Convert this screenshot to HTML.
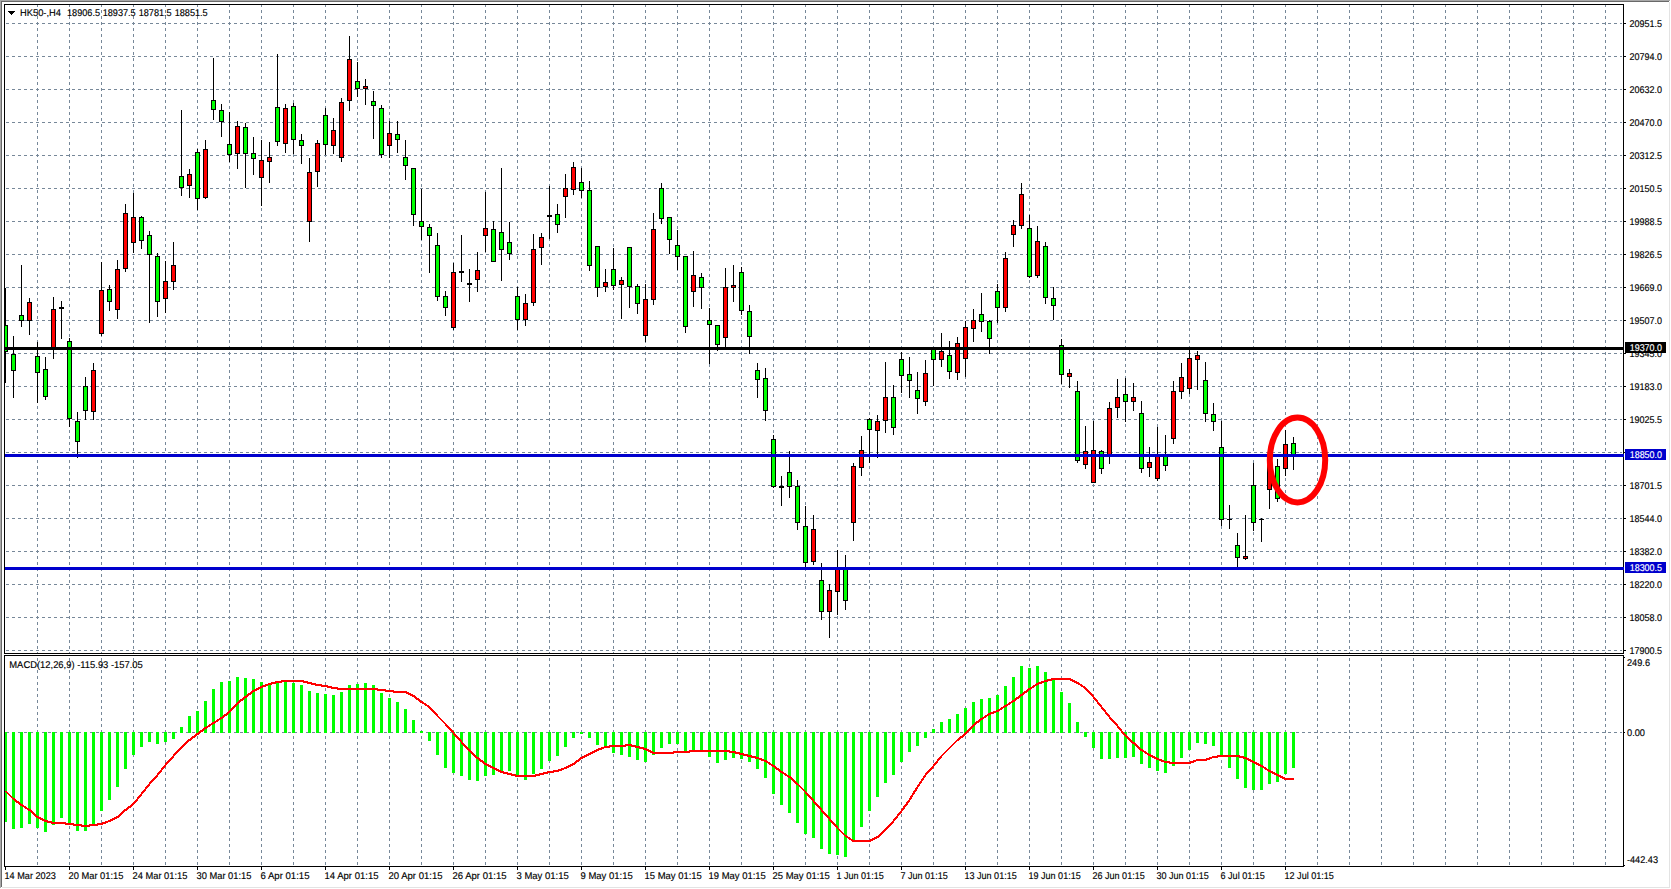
<!DOCTYPE html>
<html><head><meta charset="utf-8"><title>HK50-,H4</title>
<style>
html,body{margin:0;padding:0;background:#fff}
body{width:1671px;height:889px;overflow:hidden;position:relative}
svg{position:absolute;left:0;top:0;display:block}
text{font-family:"Liberation Sans",sans-serif;font-size:9.75px;fill:#000;stroke:#000;stroke-width:.15px;text-rendering:geometricPrecision}
.c{shape-rendering:crispEdges}
</style></head><body>
<svg width="1671" height="889" viewBox="0 0 1671 889">
<defs>
<clipPath id="cm"><rect x="5" y="5" width="1618" height="648"/></clipPath>
<clipPath id="ci"><rect x="5" y="656" width="1618" height="210"/></clipPath>
</defs>
<rect x="0" y="0" width="1671" height="889" fill="#fff"/>
<g class="c">
<rect x="0" y="0" width="1670" height="1" fill="#a8a8a8"/>
<rect x="0" y="0" width="1" height="888" fill="#a8a8a8"/>
<rect x="1" y="1" width="1668" height="1" fill="#696969"/>
<rect x="1" y="1" width="1" height="886" fill="#696969"/>
<rect x="1669" y="2" width="1" height="886" fill="#e3e3e3"/>
<rect x="2" y="887" width="1668" height="1" fill="#e3e3e3"/>
</g>
<g class="c" stroke="#778899" stroke-width="1" stroke-dasharray="3 3" fill="none">
<path d="M37.5 4V653M69.5 4V653M101.5 4V653M133.5 4V653M165.5 4V653M197.5 4V653M229.5 4V653M261.5 4V653M293.5 4V653M325.5 4V653M357.5 4V653M389.5 4V653M421.5 4V653M453.5 4V653M485.5 4V653M517.5 4V653M549.5 4V653M581.5 4V653M613.5 4V653M645.5 4V653M677.5 4V653M709.5 4V653M741.5 4V653M773.5 4V653M805.5 4V653M837.5 4V653M869.5 4V653M901.5 4V653M933.5 4V653M965.5 4V653M997.5 4V653M1029.5 4V653M1061.5 4V653M1093.5 4V653M1125.5 4V653M1157.5 4V653M1189.5 4V653M1221.5 4V653M1253.5 4V653M1285.5 4V653M1317.5 4V653M1349.5 4V653M1381.5 4V653M1413.5 4V653M1445.5 4V653M1477.5 4V653M1509.5 4V653M1541.5 4V653M1573.5 4V653M1605.5 4V653"/>
<path d="M37.5 652V866M69.5 652V866M101.5 652V866M133.5 652V866M165.5 652V866M197.5 652V866M229.5 652V866M261.5 652V866M293.5 652V866M325.5 652V866M357.5 652V866M389.5 652V866M421.5 652V866M453.5 652V866M485.5 652V866M517.5 652V866M549.5 652V866M581.5 652V866M613.5 652V866M645.5 652V866M677.5 652V866M709.5 652V866M741.5 652V866M773.5 652V866M805.5 652V866M837.5 652V866M869.5 652V866M901.5 652V866M933.5 652V866M965.5 652V866M997.5 652V866M1029.5 652V866M1061.5 652V866M1093.5 652V866M1125.5 652V866M1157.5 652V866M1189.5 652V866M1221.5 652V866M1253.5 652V866M1285.5 652V866M1317.5 652V866M1349.5 652V866M1381.5 652V866M1413.5 652V866M1445.5 652V866M1477.5 652V866M1509.5 652V866M1541.5 652V866M1573.5 652V866M1605.5 652V866" clip-path="url(#ci)"/>
<path d="M6 23.5H1622M6 56.5H1622M6 89.5H1622M6 122.5H1622M6 155.5H1622M6 188.5H1622M6 221.5H1622M6 254.5H1622M6 287.5H1622M6 320.5H1622M6 353.5H1622M6 386.5H1622M6 419.5H1622M6 452.5H1622M6 485.5H1622M6 518.5H1622M6 551.5H1622M6 584.5H1622M6 617.5H1622M6 650.5H1622M6 732.5H1622"/>
</g>
<g class="c" fill="#00FF00" clip-path="url(#ci)">
<rect x="4" y="732" width="3" height="90"/>
<rect x="12" y="732" width="3" height="97"/>
<rect x="20" y="732" width="3" height="96"/>
<rect x="28" y="732" width="3" height="92"/>
<rect x="36" y="732" width="3" height="96"/>
<rect x="44" y="732" width="3" height="100"/>
<rect x="52" y="732" width="3" height="93"/>
<rect x="60" y="732" width="3" height="86"/>
<rect x="68" y="732" width="3" height="92"/>
<rect x="76" y="732" width="3" height="99"/>
<rect x="84" y="732" width="3" height="99"/>
<rect x="92" y="732" width="3" height="93"/>
<rect x="100" y="732" width="3" height="79"/>
<rect x="108" y="732" width="3" height="68"/>
<rect x="116" y="732" width="3" height="55"/>
<rect x="124" y="732" width="3" height="37"/>
<rect x="132" y="732" width="3" height="23"/>
<rect x="140" y="732" width="3" height="15"/>
<rect x="148" y="732" width="3" height="10"/>
<rect x="156" y="732" width="3" height="12"/>
<rect x="164" y="732" width="3" height="10"/>
<rect x="172" y="732" width="3" height="7"/>
<rect x="180" y="727" width="3" height="6"/>
<rect x="188" y="716" width="3" height="17"/>
<rect x="196" y="711" width="3" height="22"/>
<rect x="204" y="701" width="3" height="32"/>
<rect x="212" y="689" width="3" height="44"/>
<rect x="220" y="682" width="3" height="51"/>
<rect x="228" y="681" width="3" height="52"/>
<rect x="236" y="677" width="3" height="56"/>
<rect x="244" y="678" width="3" height="55"/>
<rect x="252" y="679" width="3" height="54"/>
<rect x="260" y="682" width="3" height="51"/>
<rect x="268" y="684" width="3" height="49"/>
<rect x="276" y="683" width="3" height="50"/>
<rect x="284" y="682" width="3" height="51"/>
<rect x="292" y="683" width="3" height="50"/>
<rect x="300" y="685" width="3" height="48"/>
<rect x="308" y="691" width="3" height="42"/>
<rect x="316" y="693" width="3" height="40"/>
<rect x="324" y="694" width="3" height="39"/>
<rect x="332" y="695" width="3" height="38"/>
<rect x="340" y="692" width="3" height="41"/>
<rect x="348" y="685" width="3" height="48"/>
<rect x="356" y="684" width="3" height="49"/>
<rect x="364" y="683" width="3" height="50"/>
<rect x="372" y="685" width="3" height="48"/>
<rect x="380" y="693" width="3" height="40"/>
<rect x="388" y="698" width="3" height="35"/>
<rect x="396" y="702" width="3" height="31"/>
<rect x="404" y="709" width="3" height="24"/>
<rect x="412" y="720" width="3" height="13"/>
<rect x="420" y="731" width="3" height="2"/>
<rect x="428" y="732" width="3" height="9"/>
<rect x="436" y="732" width="3" height="23"/>
<rect x="444" y="732" width="3" height="36"/>
<rect x="452" y="732" width="3" height="41"/>
<rect x="460" y="732" width="3" height="44"/>
<rect x="468" y="732" width="3" height="48"/>
<rect x="476" y="732" width="3" height="49"/>
<rect x="484" y="732" width="3" height="44"/>
<rect x="492" y="732" width="3" height="43"/>
<rect x="500" y="732" width="3" height="40"/>
<rect x="508" y="732" width="3" height="39"/>
<rect x="516" y="732" width="3" height="44"/>
<rect x="524" y="732" width="3" height="48"/>
<rect x="532" y="732" width="3" height="42"/>
<rect x="540" y="732" width="3" height="37"/>
<rect x="548" y="732" width="3" height="29"/>
<rect x="556" y="732" width="3" height="24"/>
<rect x="564" y="732" width="3" height="15"/>
<rect x="572" y="732" width="3" height="6"/>
<rect x="580" y="732" width="3" height="2"/>
<rect x="588" y="732" width="3" height="6"/>
<rect x="596" y="732" width="3" height="13"/>
<rect x="604" y="732" width="3" height="15"/>
<rect x="612" y="732" width="3" height="21"/>
<rect x="620" y="732" width="3" height="23"/>
<rect x="628" y="732" width="3" height="25"/>
<rect x="636" y="732" width="3" height="28"/>
<rect x="644" y="732" width="3" height="30"/>
<rect x="652" y="732" width="3" height="23"/>
<rect x="660" y="732" width="3" height="16"/>
<rect x="668" y="732" width="3" height="12"/>
<rect x="676" y="732" width="3" height="12"/>
<rect x="684" y="732" width="3" height="19"/>
<rect x="692" y="732" width="3" height="19"/>
<rect x="700" y="732" width="3" height="18"/>
<rect x="708" y="732" width="3" height="25"/>
<rect x="716" y="732" width="3" height="31"/>
<rect x="724" y="732" width="3" height="28"/>
<rect x="732" y="732" width="3" height="26"/>
<rect x="740" y="732" width="3" height="27"/>
<rect x="748" y="732" width="3" height="30"/>
<rect x="756" y="732" width="3" height="37"/>
<rect x="764" y="732" width="3" height="46"/>
<rect x="772" y="732" width="3" height="62"/>
<rect x="780" y="732" width="3" height="73"/>
<rect x="788" y="732" width="3" height="81"/>
<rect x="796" y="732" width="3" height="91"/>
<rect x="804" y="732" width="3" height="102"/>
<rect x="812" y="732" width="3" height="106"/>
<rect x="820" y="732" width="3" height="117"/>
<rect x="828" y="732" width="3" height="122"/>
<rect x="836" y="732" width="3" height="123"/>
<rect x="844" y="732" width="3" height="125"/>
<rect x="852" y="732" width="3" height="110"/>
<rect x="860" y="732" width="3" height="95"/>
<rect x="868" y="732" width="3" height="79"/>
<rect x="876" y="732" width="3" height="65"/>
<rect x="884" y="732" width="3" height="51"/>
<rect x="892" y="732" width="3" height="43"/>
<rect x="900" y="732" width="3" height="30"/>
<rect x="908" y="732" width="3" height="20"/>
<rect x="916" y="732" width="3" height="14"/>
<rect x="924" y="732" width="3" height="6"/>
<rect x="932" y="729" width="3" height="4"/>
<rect x="940" y="722" width="3" height="11"/>
<rect x="948" y="719" width="3" height="14"/>
<rect x="956" y="714" width="3" height="19"/>
<rect x="964" y="708" width="3" height="25"/>
<rect x="972" y="702" width="3" height="31"/>
<rect x="980" y="699" width="3" height="34"/>
<rect x="988" y="698" width="3" height="35"/>
<rect x="996" y="695" width="3" height="38"/>
<rect x="1004" y="686" width="3" height="47"/>
<rect x="1012" y="677" width="3" height="56"/>
<rect x="1020" y="666" width="3" height="67"/>
<rect x="1028" y="668" width="3" height="65"/>
<rect x="1036" y="666" width="3" height="67"/>
<rect x="1044" y="672" width="3" height="61"/>
<rect x="1052" y="680" width="3" height="53"/>
<rect x="1060" y="692" width="3" height="41"/>
<rect x="1068" y="703" width="3" height="30"/>
<rect x="1076" y="722" width="3" height="11"/>
<rect x="1084" y="732" width="3" height="5"/>
<rect x="1092" y="732" width="3" height="16"/>
<rect x="1100" y="732" width="3" height="27"/>
<rect x="1108" y="732" width="3" height="27"/>
<rect x="1116" y="732" width="3" height="26"/>
<rect x="1124" y="732" width="3" height="26"/>
<rect x="1132" y="732" width="3" height="25"/>
<rect x="1140" y="732" width="3" height="32"/>
<rect x="1148" y="732" width="3" height="36"/>
<rect x="1156" y="732" width="3" height="39"/>
<rect x="1164" y="732" width="3" height="41"/>
<rect x="1172" y="732" width="3" height="34"/>
<rect x="1180" y="732" width="3" height="26"/>
<rect x="1188" y="732" width="3" height="18"/>
<rect x="1196" y="732" width="3" height="11"/>
<rect x="1204" y="732" width="3" height="12"/>
<rect x="1212" y="732" width="3" height="14"/>
<rect x="1220" y="732" width="3" height="25"/>
<rect x="1228" y="732" width="3" height="36"/>
<rect x="1236" y="732" width="3" height="47"/>
<rect x="1244" y="732" width="3" height="56"/>
<rect x="1252" y="732" width="3" height="58"/>
<rect x="1260" y="732" width="3" height="58"/>
<rect x="1268" y="732" width="3" height="52"/>
<rect x="1276" y="732" width="3" height="50"/>
<rect x="1284" y="732" width="3" height="42"/>
<rect x="1292" y="732" width="3" height="36"/>
</g>
<polyline points="5.5,791 13.5,799 21.5,805 29.5,810 37.5,817 45.5,821 53.5,823 61.5,823 69.5,824 77.5,825 85.5,826 93.5,825 101.5,824 109.5,821 117.5,817 125.5,810 133.5,804 141.5,794 149.5,784 157.5,775 165.5,765 173.5,756 181.5,747 189.5,740 197.5,734 205.5,728 213.5,723 221.5,718 229.5,712 237.5,703 245.5,697 253.5,691 261.5,687 269.5,684 277.5,682 285.5,681 293.5,681 301.5,681 309.5,683 317.5,685 325.5,686 333.5,688 341.5,689 349.5,689 357.5,689 365.5,689 373.5,689 381.5,690 389.5,691 397.5,692 405.5,692 413.5,696 421.5,702 429.5,707 437.5,716 445.5,724 453.5,733 461.5,742 469.5,751 477.5,758 485.5,764 493.5,768 501.5,772 509.5,774 517.5,776 525.5,776 533.5,776 541.5,774 549.5,772 557.5,771 565.5,768 573.5,764 581.5,758 589.5,754 597.5,750 605.5,747 613.5,746 621.5,746 629.5,745 637.5,747 645.5,749 653.5,753 661.5,753 669.5,753 677.5,752 685.5,752 693.5,751 701.5,751 709.5,751 717.5,751 725.5,751 733.5,752 741.5,754 749.5,756 757.5,758 765.5,761 773.5,766 781.5,772 789.5,777 797.5,784 805.5,792 813.5,801 821.5,810 829.5,819 837.5,828 845.5,836 853.5,841 861.5,841 869.5,841 877.5,837 885.5,830 893.5,821 901.5,811 909.5,800 917.5,787 925.5,775 933.5,766 941.5,756 949.5,748 957.5,740 965.5,734 973.5,725 981.5,719 989.5,714 997.5,711 1005.5,706 1013.5,701 1021.5,695 1029.5,689 1037.5,684 1045.5,681 1053.5,679 1061.5,679 1069.5,679 1077.5,683 1085.5,688 1093.5,697 1101.5,707 1109.5,717 1117.5,726 1125.5,736 1133.5,743 1141.5,750 1149.5,755 1157.5,759 1165.5,762 1173.5,763 1181.5,763 1189.5,763 1197.5,760 1205.5,760 1213.5,757 1221.5,756 1229.5,756 1237.5,756 1245.5,758 1253.5,762 1261.5,766 1269.5,771 1277.5,775 1285.5,779 1293.5,779" fill="none" stroke="#FF0000" stroke-width="2.1" stroke-linejoin="round" shape-rendering="crispEdges" clip-path="url(#ci)"/>
<g class="c" clip-path="url(#cm)">
<path d="M5 288h1v95h-1zM13 336h1v62h-1zM21 265h1v62h-1zM29 298h1v37h-1zM37 342h1v61h-1zM45 357h1v43h-1zM53 297h1v62h-1zM61 301h1v38h-1zM69 338h1v89h-1zM77 412h1v46h-1zM85 377h1v43h-1zM93 363h1v57h-1zM101 262h1v74h-1zM109 285h1v26h-1zM117 260h1v59h-1zM125 204h1v68h-1zM133 193h1v60h-1zM141 216h1v33h-1zM149 231h1v92h-1zM157 253h1v64h-1zM165 261h1v52h-1zM173 242h1v48h-1zM181 110h1v86h-1zM189 169h1v29h-1zM197 149h1v61h-1zM205 140h1v59h-1zM213 58h1v62h-1zM221 104h1v33h-1zM229 112h1v50h-1zM237 121h1v48h-1zM245 123h1v65h-1zM253 137h1v38h-1zM261 140h1v66h-1zM269 142h1v41h-1zM277 54h1v92h-1zM285 104h1v49h-1zM293 103h1v51h-1zM301 134h1v30h-1zM309 158h1v84h-1zM317 140h1v47h-1zM325 108h1v47h-1zM333 118h1v36h-1zM341 98h1v64h-1zM349 36h1v75h-1zM357 62h1v35h-1zM365 79h1v26h-1zM373 91h1v48h-1zM381 105h1v53h-1zM389 121h1v37h-1zM397 121h1v32h-1zM405 140h1v40h-1zM413 168h1v58h-1zM421 189h1v51h-1zM429 224h1v49h-1zM437 233h1v68h-1zM445 291h1v25h-1zM453 263h1v67h-1zM461 235h1v47h-1zM469 269h1v33h-1zM477 252h1v40h-1zM485 192h1v60h-1zM493 221h1v41h-1zM501 168h1v113h-1zM509 222h1v38h-1zM517 287h1v43h-1zM525 294h1v32h-1zM533 234h1v72h-1zM541 233h1v32h-1zM549 186h1v53h-1zM557 204h1v29h-1zM565 174h1v44h-1zM573 162h1v33h-1zM581 168h1v30h-1zM589 181h1v90h-1zM597 246h1v51h-1zM605 269h1v23h-1zM613 248h1v42h-1zM621 277h1v42h-1zM629 247h1v61h-1zM637 284h1v30h-1zM645 284h1v58h-1zM653 213h1v92h-1zM661 183h1v41h-1zM669 217h1v37h-1zM677 230h1v40h-1zM685 256h1v77h-1zM693 251h1v56h-1zM701 273h1v36h-1zM709 308h1v56h-1zM717 325h1v26h-1zM725 268h1v80h-1zM733 265h1v37h-1zM741 267h1v48h-1zM749 305h1v49h-1zM757 363h1v35h-1zM765 368h1v53h-1zM773 435h1v53h-1zM781 476h1v30h-1zM789 451h1v47h-1zM797 480h1v50h-1zM805 506h1v61h-1zM813 515h1v50h-1zM821 563h1v57h-1zM829 584h1v54h-1zM837 550h1v65h-1zM845 555h1v55h-1zM853 463h1v78h-1zM861 436h1v40h-1zM869 418h1v45h-1zM877 415h1v43h-1zM885 362h1v71h-1zM893 385h1v50h-1zM901 352h1v41h-1zM909 357h1v41h-1zM917 372h1v42h-1zM925 360h1v46h-1zM933 347h1v39h-1zM941 333h1v34h-1zM949 341h1v38h-1zM957 337h1v43h-1zM965 321h1v56h-1zM973 309h1v33h-1zM981 293h1v39h-1zM989 320h1v34h-1zM997 284h1v39h-1zM1005 252h1v60h-1zM1013 220h1v27h-1zM1021 183h1v46h-1zM1029 215h1v63h-1zM1037 226h1v52h-1zM1045 242h1v62h-1zM1053 287h1v33h-1zM1061 339h1v45h-1zM1069 369h1v19h-1zM1077 381h1v82h-1zM1085 426h1v43h-1zM1093 421h1v61h-1zM1101 450h1v24h-1zM1109 402h1v62h-1zM1117 379h1v39h-1zM1125 378h1v44h-1zM1133 383h1v28h-1zM1141 401h1v72h-1zM1149 447h1v30h-1zM1157 427h1v54h-1zM1165 435h1v36h-1zM1173 381h1v63h-1zM1181 363h1v36h-1zM1189 350h1v44h-1zM1197 351h1v39h-1zM1205 362h1v60h-1zM1213 403h1v28h-1zM1221 421h1v105h-1zM1229 505h1v24h-1zM1237 533h1v34h-1zM1245 515h1v45h-1zM1253 463h1v68h-1zM1261 518h1v24h-1zM1269 452h1v57h-1zM1277 459h1v43h-1zM1285 430h1v46h-1zM1293 437h1v33h-1z" fill="#000"/>
<path d="M3 325h5v27h-5zM11 354h5v17h-5zM19 315h5v6h-5zM27 302h5v19h-5zM35 356h5v17h-5zM43 369h5v28h-5zM51 309h5v41h-5zM59 307h5v2h-5zM67 341h5v78h-5zM75 421h5v21h-5zM83 386h5v25h-5zM91 370h5v42h-5zM99 290h5v44h-5zM107 289h5v13h-5zM115 269h5v41h-5zM123 213h5v56h-5zM131 217h5v26h-5zM139 217h5v24h-5zM147 235h5v20h-5zM155 256h5v46h-5zM163 281h5v18h-5zM171 265h5v17h-5zM179 176h5v12h-5zM187 174h5v12h-5zM195 152h5v47h-5zM203 149h5v49h-5zM211 100h5v10h-5zM219 110h5v12h-5zM227 144h5v11h-5zM235 126h5v28h-5zM243 127h5v27h-5zM251 153h5v6h-5zM259 160h5v18h-5zM267 157h5v5h-5zM275 107h5v35h-5zM283 108h5v36h-5zM291 106h5v34h-5zM299 140h5v6h-5zM307 172h5v50h-5zM315 143h5v29h-5zM323 115h5v30h-5zM331 130h5v16h-5zM339 102h5v56h-5zM347 59h5v42h-5zM355 81h5v8h-5zM363 86h5v3h-5zM371 101h5v5h-5zM379 108h5v47h-5zM387 133h5v13h-5zM395 134h5v6h-5zM403 157h5v9h-5zM411 168h5v47h-5zM419 221h5v6h-5zM427 227h5v9h-5zM435 245h5v52h-5zM443 296h5v12h-5zM451 272h5v56h-5zM459 271h5v2h-5zM467 283h5v2h-5zM475 270h5v10h-5zM483 228h5v8h-5zM491 229h5v33h-5zM499 232h5v18h-5zM507 242h5v12h-5zM515 296h5v24h-5zM523 303h5v17h-5zM531 249h5v54h-5zM539 237h5v11h-5zM547 215h5v2h-5zM555 214h5v11h-5zM563 188h5v9h-5zM571 167h5v23h-5zM579 182h5v9h-5zM587 190h5v76h-5zM595 246h5v42h-5zM603 282h5v5h-5zM611 269h5v17h-5zM619 280h5v5h-5zM627 247h5v40h-5zM635 286h5v18h-5zM643 299h5v37h-5zM651 229h5v71h-5zM659 188h5v31h-5zM667 217h5v23h-5zM675 245h5v12h-5zM683 256h5v71h-5zM691 275h5v17h-5zM699 277h5v11h-5zM707 320h5v5h-5zM715 325h5v20h-5zM723 287h5v51h-5zM731 285h5v3h-5zM739 272h5v39h-5zM747 311h5v26h-5zM755 370h5v10h-5zM763 378h5v33h-5zM771 439h5v48h-5zM779 486h5v2h-5zM787 472h5v15h-5zM795 486h5v37h-5zM803 526h5v37h-5zM811 529h5v33h-5zM819 580h5v32h-5zM827 590h5v22h-5zM835 568h5v24h-5zM843 568h5v33h-5zM851 466h5v57h-5zM859 450h5v18h-5zM867 419h5v11h-5zM875 421h5v10h-5zM883 397h5v24h-5zM891 397h5v31h-5zM899 359h5v17h-5zM907 374h5v7h-5zM915 390h5v9h-5zM923 373h5v29h-5zM931 349h5v11h-5zM939 351h5v9h-5zM947 355h5v17h-5zM955 343h5v30h-5zM963 327h5v32h-5zM971 320h5v9h-5zM979 314h5v8h-5zM987 321h5v18h-5zM995 291h5v17h-5zM1003 258h5v50h-5zM1011 225h5v10h-5zM1019 194h5v32h-5zM1027 228h5v49h-5zM1035 241h5v35h-5zM1043 246h5v52h-5zM1051 298h5v8h-5zM1059 345h5v30h-5zM1067 373h5v4h-5zM1075 391h5v70h-5zM1083 451h5v14h-5zM1091 450h5v33h-5zM1099 451h5v18h-5zM1107 408h5v48h-5zM1115 397h5v11h-5zM1123 394h5v8h-5zM1131 397h5v5h-5zM1139 413h5v56h-5zM1147 462h5v6h-5zM1155 455h5v24h-5zM1163 455h5v11h-5zM1171 391h5v48h-5zM1179 377h5v15h-5zM1187 358h5v31h-5zM1195 355h5v5h-5zM1203 380h5v34h-5zM1211 414h5v8h-5zM1219 447h5v73h-5zM1227 519h5v1h-5zM1235 545h5v13h-5zM1243 556h5v3h-5zM1251 485h5v38h-5zM1259 519h5v1h-5zM1267 459h5v31h-5zM1275 466h5v33h-5zM1283 444h5v25h-5zM1291 443h5v13h-5z" fill="#000"/>
<path d="M4 326h3v25h-3zM12 355h3v15h-3zM20 316h3v4h-3zM36 357h3v15h-3zM44 370h3v26h-3zM68 342h3v76h-3zM76 422h3v19h-3zM84 387h3v23h-3zM108 290h3v11h-3zM140 218h3v22h-3zM148 236h3v18h-3zM156 257h3v44h-3zM180 177h3v10h-3zM196 153h3v45h-3zM212 101h3v8h-3zM220 111h3v10h-3zM228 145h3v9h-3zM244 128h3v25h-3zM252 154h3v4h-3zM276 108h3v33h-3zM292 107h3v32h-3zM300 141h3v4h-3zM324 116h3v28h-3zM356 82h3v6h-3zM372 102h3v3h-3zM380 109h3v45h-3zM396 135h3v4h-3zM404 158h3v7h-3zM412 169h3v45h-3zM420 222h3v4h-3zM428 228h3v7h-3zM436 246h3v50h-3zM444 297h3v10h-3zM492 230h3v31h-3zM500 233h3v16h-3zM508 243h3v10h-3zM516 297h3v22h-3zM556 215h3v9h-3zM580 183h3v7h-3zM588 191h3v74h-3zM596 247h3v40h-3zM612 270h3v15h-3zM628 248h3v38h-3zM636 287h3v16h-3zM660 189h3v29h-3zM668 218h3v21h-3zM676 246h3v10h-3zM684 257h3v69h-3zM700 278h3v9h-3zM708 321h3v3h-3zM716 326h3v18h-3zM740 273h3v37h-3zM748 312h3v24h-3zM756 371h3v8h-3zM764 379h3v31h-3zM772 440h3v46h-3zM788 473h3v13h-3zM796 487h3v35h-3zM804 527h3v35h-3zM820 581h3v30h-3zM844 569h3v31h-3zM868 420h3v9h-3zM892 398h3v29h-3zM900 360h3v15h-3zM908 375h3v5h-3zM916 391h3v7h-3zM932 350h3v9h-3zM948 356h3v15h-3zM980 315h3v6h-3zM988 322h3v16h-3zM996 292h3v15h-3zM1028 229h3v47h-3zM1044 247h3v50h-3zM1052 299h3v6h-3zM1060 346h3v28h-3zM1076 392h3v68h-3zM1100 452h3v16h-3zM1124 395h3v6h-3zM1140 414h3v54h-3zM1164 456h3v9h-3zM1204 381h3v32h-3zM1212 415h3v6h-3zM1220 448h3v71h-3zM1236 546h3v11h-3zM1252 486h3v36h-3zM1276 467h3v31h-3zM1292 444h3v11h-3z" fill="#00FF00"/>
<path d="M28 303h3v17h-3zM52 310h3v39h-3zM92 371h3v40h-3zM100 291h3v42h-3zM116 270h3v39h-3zM124 214h3v54h-3zM132 218h3v24h-3zM164 282h3v16h-3zM172 266h3v15h-3zM188 175h3v10h-3zM204 150h3v47h-3zM236 127h3v26h-3zM260 161h3v16h-3zM268 158h3v3h-3zM284 109h3v34h-3zM308 173h3v48h-3zM316 144h3v27h-3zM332 131h3v14h-3zM340 103h3v54h-3zM348 60h3v40h-3zM364 87h3v1h-3zM388 134h3v11h-3zM452 273h3v54h-3zM476 271h3v8h-3zM484 229h3v6h-3zM524 304h3v15h-3zM532 250h3v52h-3zM540 238h3v9h-3zM564 189h3v7h-3zM572 168h3v21h-3zM604 283h3v3h-3zM620 281h3v3h-3zM644 300h3v35h-3zM652 230h3v69h-3zM692 276h3v15h-3zM724 288h3v49h-3zM732 286h3v1h-3zM812 530h3v31h-3zM828 591h3v20h-3zM836 569h3v22h-3zM852 467h3v55h-3zM860 451h3v16h-3zM876 422h3v8h-3zM884 398h3v22h-3zM924 374h3v27h-3zM940 352h3v7h-3zM956 344h3v28h-3zM964 328h3v30h-3zM972 321h3v7h-3zM1004 259h3v48h-3zM1012 226h3v8h-3zM1020 195h3v30h-3zM1036 242h3v33h-3zM1068 374h3v2h-3zM1084 452h3v12h-3zM1092 451h3v31h-3zM1108 409h3v46h-3zM1116 398h3v9h-3zM1132 398h3v3h-3zM1148 463h3v4h-3zM1156 456h3v22h-3zM1172 392h3v46h-3zM1180 378h3v13h-3zM1188 359h3v29h-3zM1196 356h3v3h-3zM1244 557h3v1h-3zM1268 460h3v29h-3zM1284 445h3v23h-3z" fill="#FF0000"/>
</g>
<g class="c" fill="none" stroke="#000" stroke-width="1">
<rect x="4.5" y="4.5" width="1619" height="649"/>
<rect x="4.5" y="655.5" width="1619" height="211"/>
</g>
<g class="c">
<rect x="5" y="347" width="1619" height="3" fill="#000"/>
<rect x="5" y="454" width="1619" height="3" fill="#0000CD"/>
<rect x="5" y="567" width="1619" height="3" fill="#0000CD"/>
</g>
<ellipse cx="1297.5" cy="460" rx="27.7" ry="42.4" fill="none" stroke="#FF0000" stroke-width="6"/>
<g class="c" fill="#000">
<rect x="1624" y="23" width="2" height="1"/>
<rect x="1624" y="56" width="2" height="1"/>
<rect x="1624" y="89" width="2" height="1"/>
<rect x="1624" y="122" width="2" height="1"/>
<rect x="1624" y="155" width="2" height="1"/>
<rect x="1624" y="188" width="2" height="1"/>
<rect x="1624" y="221" width="2" height="1"/>
<rect x="1624" y="254" width="2" height="1"/>
<rect x="1624" y="287" width="2" height="1"/>
<rect x="1624" y="320" width="2" height="1"/>
<rect x="1624" y="353" width="2" height="1"/>
<rect x="1624" y="386" width="2" height="1"/>
<rect x="1624" y="419" width="2" height="1"/>
<rect x="1624" y="452" width="2" height="1"/>
<rect x="1624" y="485" width="2" height="1"/>
<rect x="1624" y="518" width="2" height="1"/>
<rect x="1624" y="551" width="2" height="1"/>
<rect x="1624" y="584" width="2" height="1"/>
<rect x="1624" y="617" width="2" height="1"/>
<rect x="1624" y="650" width="2" height="1"/>
<rect x="1624" y="657" width="1" height="1"/>
<rect x="1624" y="732" width="1" height="1"/>
<rect x="1624" y="865" width="1" height="1"/>
<rect x="5" y="867" width="1" height="3"/>
<rect x="69" y="867" width="1" height="3"/>
<rect x="133" y="867" width="1" height="3"/>
<rect x="197" y="867" width="1" height="3"/>
<rect x="261" y="867" width="1" height="3"/>
<rect x="325" y="867" width="1" height="3"/>
<rect x="389" y="867" width="1" height="3"/>
<rect x="453" y="867" width="1" height="3"/>
<rect x="517" y="867" width="1" height="3"/>
<rect x="581" y="867" width="1" height="3"/>
<rect x="645" y="867" width="1" height="3"/>
<rect x="709" y="867" width="1" height="3"/>
<rect x="773" y="867" width="1" height="3"/>
<rect x="837" y="867" width="1" height="3"/>
<rect x="901" y="867" width="1" height="3"/>
<rect x="965" y="867" width="1" height="3"/>
<rect x="1029" y="867" width="1" height="3"/>
<rect x="1093" y="867" width="1" height="3"/>
<rect x="1157" y="867" width="1" height="3"/>
<rect x="1221" y="867" width="1" height="3"/>
<rect x="1285" y="867" width="1" height="3"/>
</g>
<text x="1629.5" y="27" textLength="32.5" lengthAdjust="spacingAndGlyphs">20951.5</text>
<text x="1629.5" y="60" textLength="32.5" lengthAdjust="spacingAndGlyphs">20794.0</text>
<text x="1629.5" y="93" textLength="32.5" lengthAdjust="spacingAndGlyphs">20632.0</text>
<text x="1629.5" y="126" textLength="32.5" lengthAdjust="spacingAndGlyphs">20470.0</text>
<text x="1629.5" y="159" textLength="32.5" lengthAdjust="spacingAndGlyphs">20312.5</text>
<text x="1629.5" y="192" textLength="32.5" lengthAdjust="spacingAndGlyphs">20150.5</text>
<text x="1629.5" y="225" textLength="32.5" lengthAdjust="spacingAndGlyphs">19988.5</text>
<text x="1629.5" y="258" textLength="32.5" lengthAdjust="spacingAndGlyphs">19826.5</text>
<text x="1629.5" y="291" textLength="32.5" lengthAdjust="spacingAndGlyphs">19669.0</text>
<text x="1629.5" y="324" textLength="32.5" lengthAdjust="spacingAndGlyphs">19507.0</text>
<text x="1629.5" y="357" textLength="32.5" lengthAdjust="spacingAndGlyphs">19345.0</text>
<text x="1629.5" y="390" textLength="32.5" lengthAdjust="spacingAndGlyphs">19183.0</text>
<text x="1629.5" y="423" textLength="32.5" lengthAdjust="spacingAndGlyphs">19025.5</text>
<text x="1629.5" y="489" textLength="32.5" lengthAdjust="spacingAndGlyphs">18701.5</text>
<text x="1629.5" y="522" textLength="32.5" lengthAdjust="spacingAndGlyphs">18544.0</text>
<text x="1629.5" y="555" textLength="32.5" lengthAdjust="spacingAndGlyphs">18382.0</text>
<text x="1629.5" y="588" textLength="32.5" lengthAdjust="spacingAndGlyphs">18220.0</text>
<text x="1629.5" y="621" textLength="32.5" lengthAdjust="spacingAndGlyphs">18058.0</text>
<text x="1629.5" y="654" textLength="32.5" lengthAdjust="spacingAndGlyphs">17900.5</text>
<rect class="c" x="1625" y="342" width="41" height="11" fill="#000"/>
<text x="1629.7" y="351" textLength="32.3" lengthAdjust="spacingAndGlyphs" style="fill:#fff;stroke:#fff">19370.0</text>
<rect class="c" x="1625" y="449" width="41" height="11" fill="#0000CD"/>
<text x="1629.7" y="458" textLength="32.3" lengthAdjust="spacingAndGlyphs" style="fill:#fff;stroke:#fff">18850.0</text>
<rect class="c" x="1625" y="562" width="41" height="11" fill="#0000CD"/>
<text x="1629.7" y="571" textLength="32.3" lengthAdjust="spacingAndGlyphs" style="fill:#fff;stroke:#fff">18300.5</text>
<text x="1627" y="666" textLength="23" lengthAdjust="spacingAndGlyphs">249.6</text>
<text x="1627" y="736" textLength="18" lengthAdjust="spacingAndGlyphs">0.00</text>
<text x="1627" y="863" textLength="31" lengthAdjust="spacingAndGlyphs">-442.43</text>
<text x="4.5" y="879" textLength="51.3" lengthAdjust="spacingAndGlyphs">14 Mar 2023</text>
<text x="68.5" y="879" textLength="54.9" lengthAdjust="spacingAndGlyphs">20 Mar 01:15</text>
<text x="132.5" y="879" textLength="54.9" lengthAdjust="spacingAndGlyphs">24 Mar 01:15</text>
<text x="196.5" y="879" textLength="54.9" lengthAdjust="spacingAndGlyphs">30 Mar 01:15</text>
<text x="260.5" y="879" textLength="49" lengthAdjust="spacingAndGlyphs">6 Apr 01:15</text>
<text x="324.5" y="879" textLength="54" lengthAdjust="spacingAndGlyphs">14 Apr 01:15</text>
<text x="388.5" y="879" textLength="54" lengthAdjust="spacingAndGlyphs">20 Apr 01:15</text>
<text x="452.5" y="879" textLength="54" lengthAdjust="spacingAndGlyphs">26 Apr 01:15</text>
<text x="516.5" y="879" textLength="52.3" lengthAdjust="spacingAndGlyphs">3 May 01:15</text>
<text x="580.5" y="879" textLength="52.3" lengthAdjust="spacingAndGlyphs">9 May 01:15</text>
<text x="644.5" y="879" textLength="57.3" lengthAdjust="spacingAndGlyphs">15 May 01:15</text>
<text x="708.5" y="879" textLength="57.3" lengthAdjust="spacingAndGlyphs">19 May 01:15</text>
<text x="772.5" y="879" textLength="57.3" lengthAdjust="spacingAndGlyphs">25 May 01:15</text>
<text x="836.5" y="879" textLength="47.2" lengthAdjust="spacingAndGlyphs">1 Jun 01:15</text>
<text x="900.5" y="879" textLength="47.2" lengthAdjust="spacingAndGlyphs">7 Jun 01:15</text>
<text x="964.5" y="879" textLength="52.2" lengthAdjust="spacingAndGlyphs">13 Jun 01:15</text>
<text x="1028.5" y="879" textLength="52.2" lengthAdjust="spacingAndGlyphs">19 Jun 01:15</text>
<text x="1092.5" y="879" textLength="52.2" lengthAdjust="spacingAndGlyphs">26 Jun 01:15</text>
<text x="1156.5" y="879" textLength="52.2" lengthAdjust="spacingAndGlyphs">30 Jun 01:15</text>
<text x="1220.5" y="879" textLength="44.4" lengthAdjust="spacingAndGlyphs">6 Jul 01:15</text>
<text x="1284.5" y="879" textLength="49.4" lengthAdjust="spacingAndGlyphs">12 Jul 01:15</text>
<path class="c" d="M8 11h7v1h-1v1h-1v1h-1v1h-1v-1h-1v-1h-1v-1h-1z" fill="#000"/>
<text x="20" y="16" textLength="41" lengthAdjust="spacingAndGlyphs">HK50-,H4</text>
<text x="67" y="16" textLength="33" lengthAdjust="spacingAndGlyphs">18906.5</text>
<text x="102.7" y="16" textLength="33" lengthAdjust="spacingAndGlyphs">18937.5</text>
<text x="138.7" y="16" textLength="33" lengthAdjust="spacingAndGlyphs">18781.5</text>
<text x="174.7" y="16" textLength="33" lengthAdjust="spacingAndGlyphs">18851.5</text>
<text x="9.3" y="668" textLength="133.5" lengthAdjust="spacingAndGlyphs">MACD(12,26,9) -115.93 -157.05</text>
</svg></body></html>
